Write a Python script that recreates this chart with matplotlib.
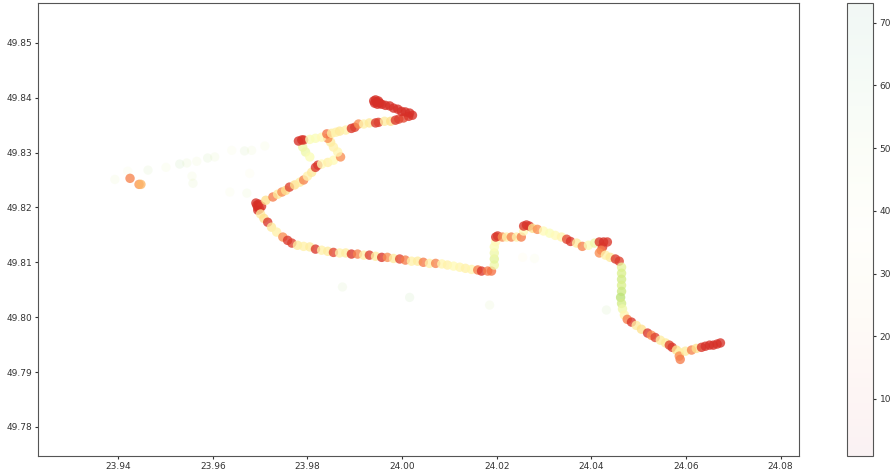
import matplotlib
matplotlib.use("Agg")
import matplotlib.pyplot as plt
from matplotlib.ticker import MultipleLocator, FormatStrFormatter

# GPS track samples: longitude, latitude, speed (km/h)
lon = [23.9425, 23.9444, 23.9448,
       23.9691, 23.9693, 23.9695, 23.9697, 23.9699, 23.9703, 23.9695,
       23.9712, 23.9727, 23.9737, 23.9746, 23.9754, 23.9762, 23.9773, 23.9784, 23.9792, 23.9800,
       23.9809, 23.9817, 23.9822,
       23.9830, 23.9843, 23.9855, 23.9870, 23.9864, 23.9855, 23.9849, 23.9843,
       23.9790, 23.9796, 23.9805,
       23.9781, 23.9788, 23.9792, 23.9805, 23.9817, 23.9830, 23.9841,
       23.9851, 23.9860, 23.9868, 23.9881, 23.9893, 23.9900, 23.9908, 23.9919, 23.9931, 23.9944,
       23.9950, 23.9963, 23.9976, 23.9986, 23.9993, 24.0003, 24.0014, 24.0022,
       24.0016, 24.0007, 23.9999, 23.9991, 23.9982, 23.9974, 23.9965, 23.9957,
       23.9944, 23.9946, 23.9950, 23.9942, 23.9948, 23.9953, 23.9940,
       23.9701, 23.9708, 23.9716, 23.9724, 23.9735, 23.9748, 23.9758, 23.9767, 23.9779, 23.9792,
       23.9805, 23.9817, 23.9830, 23.9843, 23.9855, 23.9868, 23.9881, 23.9893, 23.9906, 23.9919,
       23.9931, 23.9944, 23.9957, 23.9969, 23.9982, 23.9995, 24.0007, 24.0020, 24.0033, 24.0045,
       24.0058, 24.0071, 24.0084, 24.0096, 24.0109, 24.0122, 24.0134, 24.0147, 24.0160, 24.0168,
       24.0181, 24.0189,
       24.0195, 24.0195, 24.0195, 24.0195, 24.0198, 24.0198, 24.0202, 24.0212, 24.0221, 24.0231,
       24.0242, 24.0252, 24.0257, 24.0257, 24.0263, 24.0269, 24.0276, 24.0286,
       24.0299, 24.0312, 24.0324, 24.0337, 24.0348, 24.0356, 24.0369, 24.0381, 24.0394, 24.0407,
       24.0417, 24.0426, 24.0434, 24.0424, 24.0421, 24.0417, 24.0430, 24.0440, 24.0451, 24.0459,
       24.0464, 24.0464, 24.0464, 24.0464, 24.0464, 24.0462, 24.0464, 24.0466, 24.0470, 24.0476,
       24.0485, 24.0495, 24.0506, 24.0519, 24.0527, 24.0535, 24.0546, 24.0557, 24.0565, 24.0571,
       24.0580, 24.0586, 24.0586, 24.0588, 24.0599, 24.0612, 24.0622, 24.0633, 24.0641, 24.0650,
       24.0658, 24.0666, 24.0673]
lat = [49.8253, 49.8242, 49.8242,
       49.8208, 49.8204, 49.8200, 49.8206, 49.8197, 49.8202, 49.8195,
       49.8213, 49.8219, 49.8224, 49.8228, 49.8231, 49.8237, 49.8241, 49.8246, 49.8250, 49.8257,
       49.8264, 49.8273, 49.8277,
       49.8279, 49.8282, 49.8286, 49.8292, 49.8301, 49.8310, 49.8319, 49.8326,
       49.8310, 49.8301, 49.8292,
       49.8321, 49.8323, 49.8323, 49.8324, 49.8326, 49.8328, 49.8334,
       49.8335, 49.8337, 49.8339, 49.8341, 49.8344, 49.8346, 49.8352, 49.8352, 49.8354, 49.8354,
       49.8355, 49.8357, 49.8357, 49.8359, 49.8361, 49.8363, 49.8366, 49.8368,
       49.8372, 49.8374, 49.8375, 49.8379, 49.8381, 49.8385, 49.8386, 49.8388,
       49.8396, 49.8392, 49.8394, 49.8390, 49.8388, 49.8390, 49.8394,
       49.8188, 49.8180, 49.8173, 49.8164, 49.8155, 49.8146, 49.8140, 49.8135, 49.8131, 49.8129,
       49.8128, 49.8124, 49.8122, 49.8120, 49.8118, 49.8117, 49.8117, 49.8115, 49.8115, 49.8113,
       49.8113, 49.8111, 49.8109, 49.8109, 49.8107, 49.8106, 49.8104, 49.8102, 49.8102, 49.8100,
       49.8098, 49.8098, 49.8097, 49.8095, 49.8093, 49.8091, 49.8089, 49.8087, 49.8086, 49.8084,
       49.8084, 49.8084,
       49.8095, 49.8106, 49.8117, 49.8128, 49.8138, 49.8146, 49.8148, 49.8146, 49.8146, 49.8146,
       49.8146, 49.8146, 49.8157, 49.8166, 49.8168, 49.8166, 49.8162, 49.8160,
       49.8157, 49.8153, 49.8149, 49.8146, 49.8142, 49.8138, 49.8135, 49.8129, 49.8131, 49.8135,
       49.8137, 49.8137, 49.8137, 49.8128, 49.8122, 49.8117, 49.8113, 49.8109, 49.8106, 49.8102,
       49.8091, 49.8080, 49.8069, 49.8058, 49.8047, 49.8036, 49.8025, 49.8015, 49.8004, 49.7996,
       49.7991, 49.7985, 49.7978, 49.7971, 49.7967, 49.7963, 49.7958, 49.7953, 49.7949, 49.7945,
       49.7940, 49.7936, 49.7929, 49.7923, 49.7938, 49.7940, 49.7943, 49.7945, 49.7947, 49.7949,
       49.7949, 49.7951, 49.7953]
speed = [18, 20, 24,
         8, 8, 8, 8, 8, 9, 8,
         30, 17, 32, 19, 30, 10, 30, 33, 18, 34,
         32, 9, 9,
         36, 34, 36, 19, 35, 34, 33, 19,
         40, 40, 38,
         8, 8, 9, 38, 38, 36, 16,
         33, 34, 32, 34, 9, 10, 19, 34, 32, 9,
         10, 33, 30, 9, 10, 11, 9, 8,
         8, 8, 8, 8, 8, 8, 8, 8,
         8, 8, 8, 8, 8, 8, 8,
         33, 30, 9, 32, 34, 19, 9, 10, 33, 34,
         33, 9, 34, 33, 11, 34, 33, 9, 18, 34,
         10, 33, 9, 19, 33, 11, 17, 34, 33, 17,
         34, 18, 35, 34, 36, 35, 34, 35, 17, 9,
         17, 16,
         40, 42, 40, 38, 36, 8, 9, 19, 34, 18,
         34, 17, 36, 9, 8, 9, 30, 19,
         36, 38, 36, 35, 11, 9, 33, 18, 38, 40,
         9, 8, 9, 9, 17, 19, 34, 32, 9, 10,
         42, 44, 45, 44, 46, 48, 45, 40, 35, 17,
         9, 33, 30, 9, 19, 10, 33, 32, 10, 9,
         30, 34, 19, 17, 33, 18, 30, 9, 8, 8,
         8, 8, 8]

# sparse, faint samples off the main track
stray_lon = [23.9393, 23.9420, 23.9463, 23.9501, 23.9530, 23.9545, 23.9566, 23.9589, 23.9604,
             23.9640, 23.9667, 23.9682, 23.9710, 23.9678, 23.9558, 23.9556, 23.9636, 23.9672,
             23.9874, 24.0016, 24.0185, 24.0255, 24.0280, 24.0432]
stray_lat = [49.8251, 49.8266, 49.8268, 49.8273, 49.8279, 49.8281, 49.8284, 49.8290, 49.8292,
             49.8304, 49.8303, 49.8304, 49.8312, 49.8262, 49.8244, 49.8257, 49.8228, 49.8226,
             49.8055, 49.8036, 49.8022, 49.8109, 49.8107, 49.8013]
stray_speed = [45, 40, 50, 42, 55, 48, 44, 52, 46,
               40, 50, 45, 42, 38, 48, 44, 40, 46,
               50, 55, 48, 36, 40, 52]

fig = plt.figure(figsize=(8.96, 4.73), dpi=100)
ax = fig.add_axes([0.0427, 0.036, 0.849, 0.957])
cax = fig.add_axes([0.945, 0.036, 0.0298, 0.957])

ax.scatter(stray_lon, stray_lat, c=stray_speed, cmap='RdYlGn', vmin=0.9, vmax=73.1,
           alpha=0.09, s=45, linewidths=0)
sc = ax.scatter(lon, lat, c=speed, cmap='RdYlGn', vmin=0.9, vmax=73.1,
                alpha=0.78, s=46, linewidths=0)

ax.set_xlim(23.9231, 24.0839)
ax.set_ylim(49.7747, 49.8572)
ax.xaxis.set_major_locator(MultipleLocator(0.02))
ax.yaxis.set_major_locator(MultipleLocator(0.01))
ax.xaxis.set_major_formatter(FormatStrFormatter('%.2f'))
ax.yaxis.set_major_formatter(FormatStrFormatter('%.2f'))
ax.tick_params(labelsize=6.5, colors='#333333', length=2.5, pad=2)
for sp in ax.spines.values():
    sp.set_color('#555555')

cb = fig.colorbar(sc, cax=cax)
cb.solids.set_alpha(0.05)
cb.outline.set_edgecolor('#555555')
cb.ax.tick_params(labelsize=6.5, colors='#333333', length=2.5, pad=2)

fig.savefig('out.png', dpi=100)
